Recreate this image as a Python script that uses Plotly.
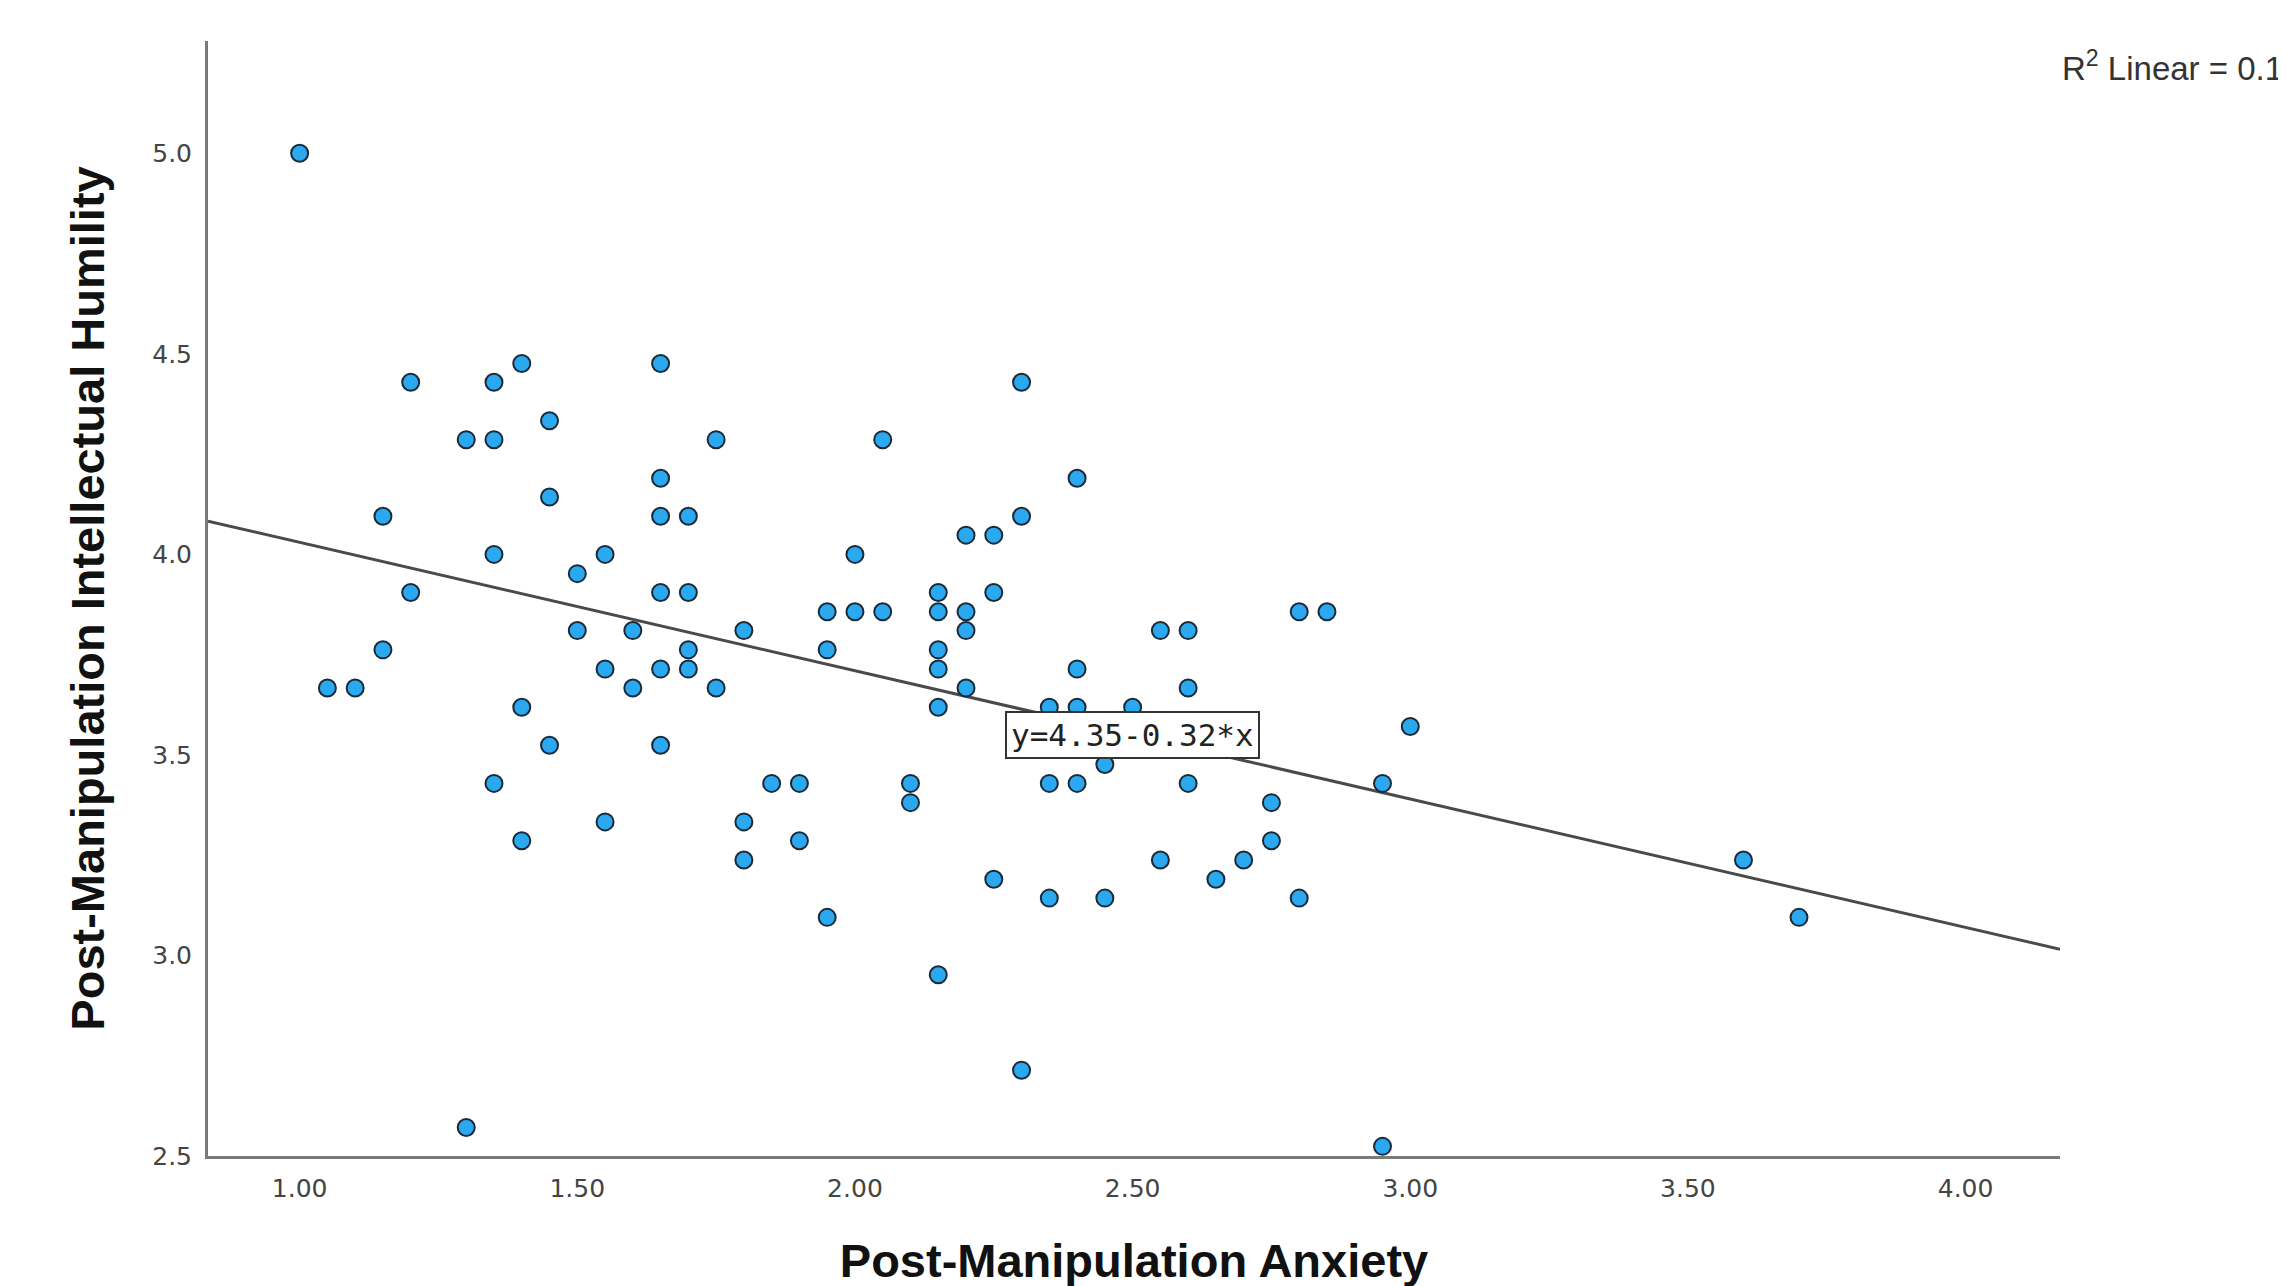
import plotly.graph_objects as go

# ---- data ----
anxiety = [
    1.00, 1.05, 1.10, 1.15, 1.15, 1.20, 1.20, 1.30, 1.30,
    1.35, 1.35, 1.35, 1.35, 1.40, 1.40, 1.40, 1.45, 1.45, 1.45,
    1.50, 1.50, 1.55, 1.55, 1.55, 1.60, 1.60,
    1.65, 1.65, 1.65, 1.65, 1.65, 1.65, 1.70, 1.70, 1.70, 1.70,
    1.75, 1.75, 1.80, 1.80, 1.80, 1.85, 1.90, 1.90,
    1.95, 1.95, 1.95, 2.00, 2.00, 2.05, 2.05, 2.10, 2.10,
    2.15, 2.15, 2.15, 2.15, 2.15, 2.15, 2.20, 2.20, 2.20, 2.20,
    2.25, 2.25, 2.25, 2.30, 2.30, 2.30, 2.35, 2.35, 2.35,
    2.40, 2.40, 2.40, 2.40, 2.45, 2.45, 2.50, 2.55, 2.55,
    2.60, 2.60, 2.60, 2.65, 2.70, 2.75, 2.75, 2.80, 2.80, 2.85,
    2.95, 2.95, 3.00, 3.60, 3.70,
]
humility = [
    5.000, 3.667, 3.667, 4.095, 3.762, 4.429, 3.905, 4.286, 2.571,
    4.429, 4.286, 4.000, 3.429, 4.476, 3.619, 3.286, 4.333, 4.143, 3.524,
    3.952, 3.810, 4.000, 3.714, 3.333, 3.810, 3.667,
    4.476, 4.190, 4.095, 3.905, 3.714, 3.524, 4.095, 3.905, 3.762, 3.714,
    4.286, 3.667, 3.810, 3.333, 3.238, 3.429, 3.429, 3.286,
    3.857, 3.762, 3.095, 4.000, 3.857, 4.286, 3.857, 3.429, 3.381,
    3.905, 3.857, 3.762, 3.714, 3.619, 2.952, 4.048, 3.857, 3.810, 3.667,
    4.048, 3.905, 3.190, 4.429, 4.095, 2.714, 3.619, 3.429, 3.143,
    4.190, 3.714, 3.619, 3.429, 3.476, 3.143, 3.619, 3.810, 3.238,
    3.810, 3.667, 3.429, 3.190, 3.238, 3.381, 3.286, 3.857, 3.143, 3.857,
    3.429, 2.524, 3.571, 3.238, 3.095,
]
x_tick_vals = [1.0, 1.5, 2.0, 2.5, 3.0, 3.5, 4.0]
x_tick_text = ["1.00", "1.50", "2.00", "2.50", "3.00", "3.50", "4.00"]
y_tick_vals = [2.5, 3.0, 3.5, 4.0, 4.5, 5.0]
y_tick_text = ["2.5", "3.0", "3.5", "4.0", "4.5", "5.0"]
fit_intercept = 4.35
fit_slope = -0.32
equation_text = "y=4.35-0.32*x"
r2_text = "R<sup>2</sup> Linear = 0.1"
x_title = "Post-Manipulation Anxiety"
y_title = "Post-Manipulation Intellectual Humility"

x_range = [0.835, 4.17]
y_range = [2.5, 5.28]

fit_x = list(x_range)
fit_y = [fit_intercept + fit_slope * v for v in fit_x]

fig = go.Figure()
fig.add_trace(go.Scatter(
    x=fit_x, y=fit_y, mode="lines",
    line=dict(color="#4a4a4a", width=3), hoverinfo="skip", showlegend=False,
))
fig.add_trace(go.Scatter(
    x=anxiety, y=humility, mode="markers",
    marker=dict(size=17, color="#2aa8f0", line=dict(color="#1b2a38", width=2)),
    showlegend=False,
))

eq_x = 2.5
fig.add_annotation(
    x=eq_x, y=fit_intercept + fit_slope * eq_x, xref="x", yref="y",
    text=equation_text, showarrow=False,
    font=dict(family="DejaVu Sans Mono", size=31, color="#222222"),
    bgcolor="white", bordercolor="#333333", borderwidth=2, borderpad=4,
)
fig.add_annotation(
    x=1.0, y=0.978, xref="paper", yref="paper", xanchor="left", yanchor="middle",
    text=r2_text, showarrow=False,
    font=dict(family="Liberation Sans", size=33, color="#333333"),
)

axis_common = dict(
    showline=True, linecolor="#7a7a7a", linewidth=3, mirror=False,
    showgrid=False, zeroline=False, ticks="", automargin=False,
    tickfont=dict(family="DejaVu Sans", size=25, color="#444444"),
)
fig.update_xaxes(
    range=x_range, tickvals=x_tick_vals, ticktext=x_tick_text,
    ticklabelstandoff=8,
    title=dict(text=x_title, standoff=43,
               font=dict(family="Liberation Sans", size=47, color="#111111", weight="bold")),
    **axis_common,
)
fig.update_yaxes(
    range=y_range, tickvals=y_tick_vals, ticktext=y_tick_text,
    ticklabelstandoff=8,
    title=dict(text=y_title, standoff=33,
               font=dict(family="Liberation Sans", size=47, color="#111111", weight="bold")),
    **axis_common,
)
fig.update_layout(
    width=2286, height=1286,
    margin=dict(l=200, r=234, t=33, b=138),
    paper_bgcolor="white", plot_bgcolor="white",
    showlegend=False,
)
fig.write_html("out.html")
